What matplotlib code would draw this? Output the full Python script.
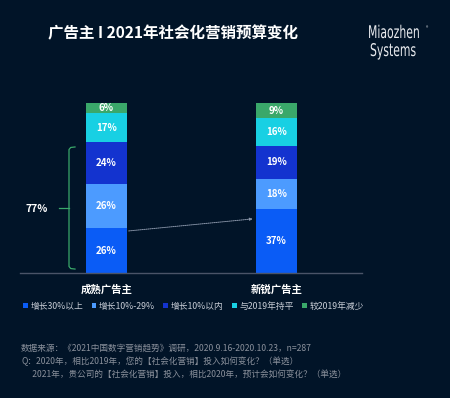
import matplotlib.pyplot as plt
from matplotlib.textpath import TextPath
from matplotlib.patches import PathPatch
from matplotlib.font_manager import FontProperties
from matplotlib.transforms import Affine2D, IdentityTransform
import numpy as np

plt.rcParams['font.family'] = ['Noto Sans CJK SC', 'DejaVu Sans']

# data
groups = ["成熟广告主", "新锐广告主"]
series = ["增长30%以上", "增长10%-29%", "增长10%以内", "与2019年持平", "较2019年减少"]
mature = [26, 26, 24, 17, 6]
newcomer = [37, 18, 19, 16, 9]
colors = ["#0A5CF6", "#4C9BFF", "#1333CF", "#18D0E3", "#3AA86A"]
brace_label = "77%"

title = "广告主 I 2021年社会化营销预算变化"
notes = [
    "数据来源：《2021中国数字营销趋势》调研，2020.9.16-2020.10.23，n=287",
    "Q：2020年，相比2019年，您的【社会化营销】投入如何变化？（单选）",
    "      2021年，贵公司的【社会化营销】投入，相比2020年，预计会如何变化？（单选）",
]

bg = "#011428"
W, H = 450, 398
fig = plt.figure(figsize=(W / 100, H / 100), dpi=100, facecolor=bg)

# axes placed in pixel terms: baseline at y=273, top at y=103, x from 20 to 362
ax = fig.add_axes([20 / W, (H - 273) / H, (362 - 20) / W, 170 / H])
ax.set_facecolor(bg)
width = 41 / 170
ax.set_xlim((20 - 106.5) / 170, (362 - 106.5) / 170)
ax.set_ylim(0, 99)

data = np.array([mature, newcomer])
x = np.arange(len(groups))
bottom = np.zeros(len(groups))
for i, name in enumerate(series):
    vals = data[:, i]
    ax.bar(x, vals, width, bottom=bottom, color=colors[i], label=name, linewidth=0)
    for xi, v, b in zip(x, vals, bottom):
        ax.text(xi, b + v / 2, f"{v}%", ha="center", va="center", color="white",
                fontsize=7, fontweight="bold")
    bottom += vals

for s in ["top", "right", "left"]:
    ax.spines[s].set_visible(False)
ax.spines["bottom"].set_color("#4A5468")
ax.spines["bottom"].set_linewidth(1)
ax.set_yticks([])
ax.set_xticks(x)
ax.set_xticklabels(groups, color="white", fontsize=7.5, fontweight="bold")
ax.tick_params(axis="x", length=0, pad=8)

# brace for 77%
bx = (69 - 106.5) / 170
bx2 = (75 - 106.5) / 170
bx0 = (59 - 106.5) / 170
y0, y1 = 2.3, 73.4
ym = (y0 + y1) / 2
gc = "#3AA86A"
ax.plot([bx2, bx + 0.01, bx, bx, bx + 0.01, bx2], [y1, y1 - 0.3, y1 - 1.5, y0 + 1.5, y0 + 0.3, y0],
        color=gc, lw=0.9, clip_on=False)
ax.plot([bx0, bx], [ym, ym], color=gc, lw=0.9, clip_on=False)
ax.text((37 - 106.5) / 170, ym - 0.5, brace_label, ha="center", va="center", color="white",
        fontsize=7.5, fontweight="bold")

# dotted connector
ax.annotate("", xy=(1 - width / 2 - 0.02, 31.5), xytext=(width / 2 + 0.01, 24.5),
            arrowprops=dict(arrowstyle="-|>", linestyle=(0, (1, 1)), color="#8C98AC",
                            lw=0.7, mutation_scale=4, shrinkA=0, shrinkB=0))

# title
fig.text(48 / W, 1 - 33 / H, title, color="white", fontsize=11.2, fontweight="bold",
         ha="left", va="center")

# logo: condensed lettering drawn as paths in pixel space
logo_font = FontProperties(family="DejaVu Sans", weight="normal")
for word, left, base in [("Miaozhen", 368, H - 38), ("Systems", 370, H - 56)]:
    tp = TextPath((0, 0), word, size=17.5, prop=logo_font)
    tr = Affine2D().scale(0.62, 1.0).translate(left, base)
    fig.patches.append(PathPatch(tr.transform_path(tp), transform=IdentityTransform(),
                                 facecolor="#E8EAEE", edgecolor="none", figure=fig))
fig.text(427 / W, 1 - 29 / H, "®", color="#E8EAEE", fontsize=3.5, ha="center", va="center")

# legend
leg = fig.legend(loc="center left", bbox_to_anchor=(23 / W, 1 - 306 / H), ncol=5,
                 frameon=False, fontsize=6.3, handlelength=0.55, handleheight=0.55,
                 handletextpad=0.3, columnspacing=0.95, borderaxespad=0, borderpad=0)
for t in leg.get_texts():
    t.set_color("#C8CDD6")

# footnotes
for k, line in enumerate(notes):
    fig.text(21 / W, 1 - (348 + 13 * k) / H, line, color="#8A909B", fontsize=6.2,
             ha="left", va="center")

fig.savefig("out.png", dpi=100, facecolor=bg)
